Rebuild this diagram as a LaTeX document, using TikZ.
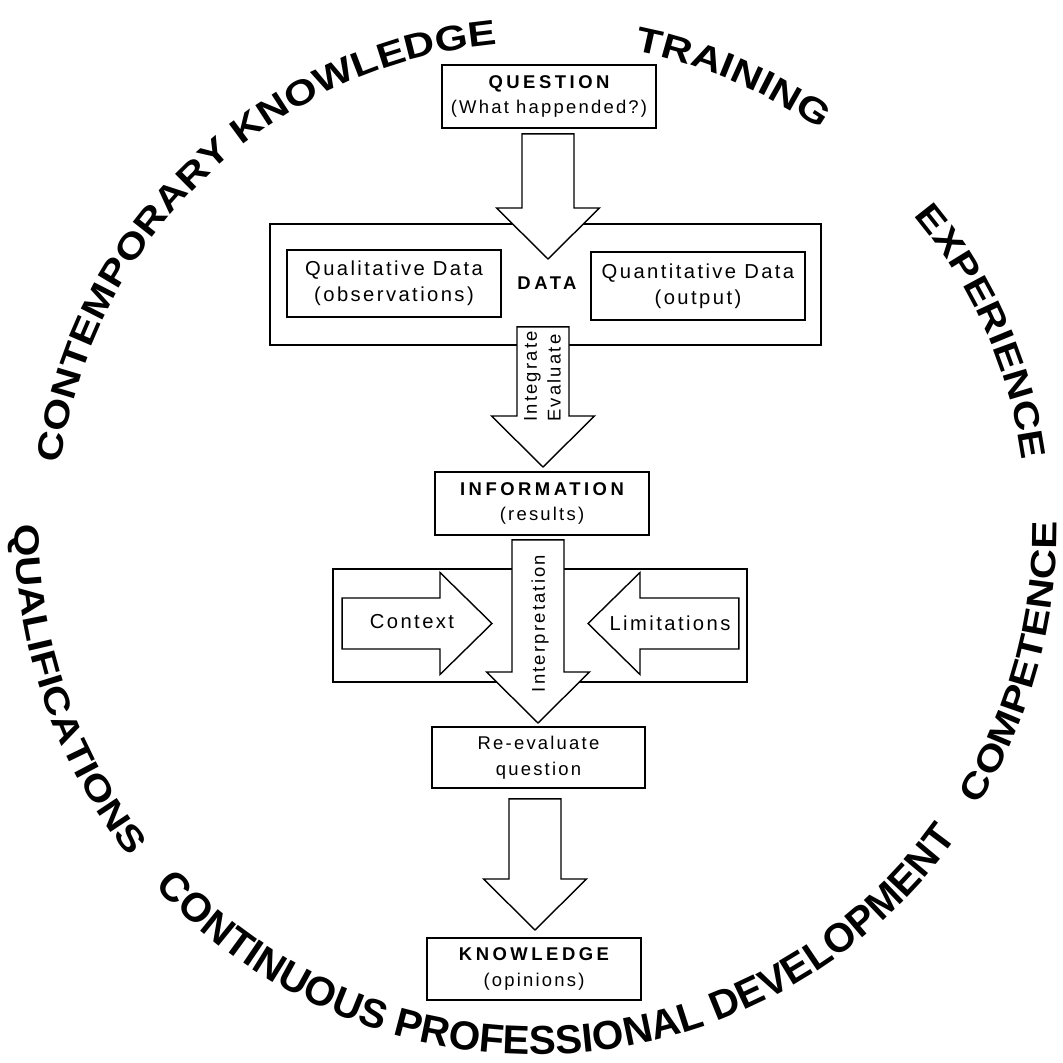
\documentclass[tikz,border=0pt]{standalone}
\usepackage{fontspec}
\setmainfont{Liberation Sans}
\newfontfamily\boxfont[LetterSpace=12]{Liberation Sans}
\newfontfamily\capsfont[LetterSpace=19]{Liberation Sans}
\newfontfamily\ringfont{Liberation Sans}
\newfontfamily\ringwide[FakeStretch=1.2]{Liberation Sans}
\usetikzlibrary{calc,decorations.text}

\newcommand{\ringtype}{\ringwide\bfseries\fontsize{20}{24}\selectfont}
\newcommand{\ringlow}{\ringfont\bfseries\fontsize{23}{27}\selectfont}
\newcommand{\labeltype}{\boxfont\fontsize{10.5}{14.7}\selectfont}
\newcommand{\largetype}{\boxfont\fontsize{11.5}{15}\selectfont}

% block arrow pointing down, from a tail point to a tip
\newcommand{\downblock}[2]{%
  \draw[fatarrow] let \p1=(#1), \p2=(#2) in
    (\x2-0.52cm,\y1) -- (\x2-0.52cm,\y2+1.02cm) -- (\x2-1.03cm,\y2+1.02cm) -- (\p2)
    -- (\x2+1.03cm,\y2+1.02cm) -- (\x2+0.52cm,\y2+1.02cm) -- (\x2+0.52cm,\y1) -- cycle;}
% block arrow lying on its side, #3 = 1 points right, -1 points left
\newcommand{\sideblock}[3]{%
  \draw[fatarrow] let \p1=(#1), \p2=(#2) in
    (\x1,\y2-0.51cm) -- ({\x2-(#3)*1.04cm},\y2-0.51cm) -- ({\x2-(#3)*1.04cm},\y2-1.02cm) -- (\p2)
    -- ({\x2-(#3)*1.04cm},\y2+1.02cm) -- ({\x2-(#3)*1.04cm},\y2+0.51cm) -- (\x1,\y2+0.51cm) -- cycle;}

\tikzset{
  box/.style={draw, line width=1pt, align=center, inner sep=0pt,
    minimum width=4.28cm, minimum height=1.26cm, font=\labeltype},
  frame/.style={draw, line width=1pt, inner sep=0pt},
  fatarrow/.style={draw, fill=white, line width=0.8pt, line join=miter},
  ringtext/.style={decorate, decoration={text along path, text align=left, text={|\ringtype|#1}}},
  ringbottom/.style={decorate, decoration={text along path, text align=left, text={|\ringlow|#1}}}
}

\begin{document}
\begin{tikzpicture}
  \useasboundingbox (0,0) rectangle (21.26,21.26);

  % words round the ring
  \path[ringtext={CONTEMPORARY KNOWLEDGE}] (10.84,10.72) ++(172.5:9.7) arc[start angle=172.5, end angle=85, radius=9.7];
  \path[ringtext={TRAINING}] (10.84,10.72) ++(79:9.7) arc[start angle=79, end angle=50, radius=9.7];
  \path[ringtext={EXPERIENCE}] (10.84,10.72) ++(40:9.7) arc[start angle=40, end angle=0, radius=9.7];
  \path[ringtext={QUALIFICATIONS}] (10.72,10.72) ++(179.7:10.42 and 10.55) arc[start angle=179.7, end angle=226, x radius=10.42, y radius=10.55];
  \path[ringbottom={CONTINUOUS PROFESSIONAL DEVELOPMENT}] (10.72,10.72) ++(223:10.42 and 10.55) arc[start angle=223, end angle=335, x radius=10.42, y radius=10.55];
  \path[ringtext={COMPETENCE}] (10.72,10.72) ++(328.2:10.42 and 10.55) arc[start angle=328.2, end angle=368, x radius=10.42, y radius=10.55];

  % boxes
  \node[box] (question) at (10.98,19.33) {{\capsfont\bfseries QUESTION}\\(What happended?)};
  \node[frame, minimum width=11.02cm, minimum height=2.42cm] (databox) at (10.91,15.57) {};
  \node[box, minimum height=1.34cm, font=\largetype] (quali) at (7.88,15.59) {Qualitative Data\\(observations)};
  \node[box, minimum height=1.36cm, font=\largetype] (quanti) at (13.96,15.54) {Quantitative Data\\(output)};
  \node[font=\labeltype\capsfont\bfseries] (data) at (10.94,15.60) {DATA};
  \node[box] (info) at (10.84,11.19) {{\capsfont\bfseries INFORMATION}\\(results)};
  \node[frame, minimum width=8.28cm, minimum height=2.26cm] (clbox) at (10.80,8.75) {};
  \node[box, minimum width=4.26cm, minimum height=1.22cm] (reeval) at (10.77,6.11) {Re-evaluate\\question};
  \node[box, minimum height=1.24cm] (knowledge) at (10.68,1.88) {{\capsfont\bfseries KNOWLEDGE}\\(opinions)};

  % arrow tips
  \coordinate (datatip) at (10.96,16.08);
  \coordinate (infotip) at (10.86,11.92);
  \coordinate (reevaltip) at (10.76,6.80);
  \coordinate (knowtip) at (10.70,2.66);
  \coordinate (ctxtip) at (9.84,8.79);
  \coordinate (limtip) at (11.76,8.79);

  \downblock{$(question.south)+(0,-0.10)$}{datatip}
  \downblock{$(databox.south)+(0,0.38)$}{infotip}
  \sideblock{$(clbox.west)+(0.20,0)$}{ctxtip}{1}
  \sideblock{$(clbox.east)+(-0.18,0)$}{limtip}{-1}
  \downblock{$(info.south)+(0,-0.08)$}{reevaltip}
  \downblock{$(reeval.south)+(0,-0.20)$}{knowtip}

  % words on the arrows
  \node[rotate=90, align=left, font=\boxfont\fontsize{10.5}{13.6}\selectfont] (integrate) at (10.85,13.73) {Integrate\\Evaluate};
  \node[rotate=90, font=\labeltype] (interp) at (10.80,8.79) {Interpretation};
  \node[font=\largetype] (context) at (8.24,8.82) {Context};
  \node[font=\largetype] (limits) at (13.40,8.80) {Limitations};
\end{tikzpicture}
\end{document}
